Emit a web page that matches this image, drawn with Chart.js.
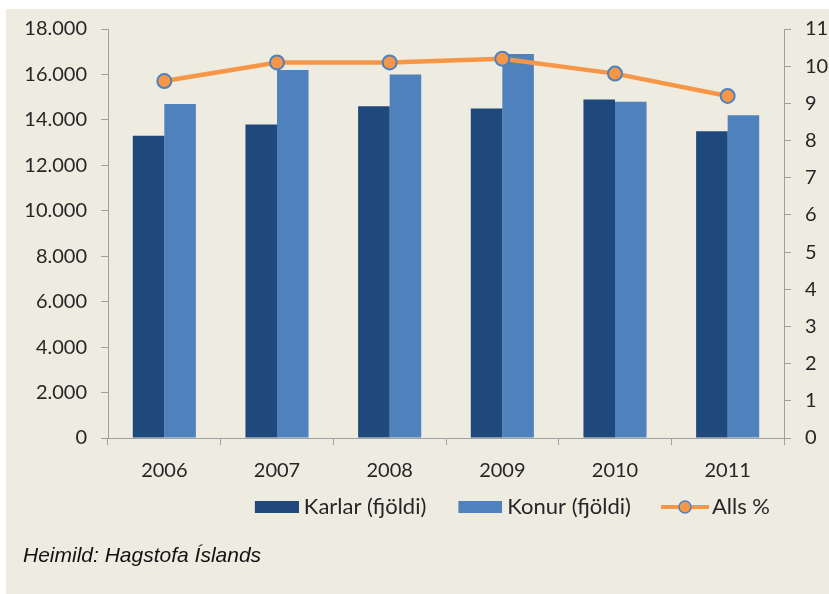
<!DOCTYPE html>
<html>
<head>
<meta charset="utf-8">
<script src="https://cdn.jsdelivr.net/npm/chart.js@4"></script>
<style>
html,body{margin:0;padding:0;background:#fff;width:829px;height:594px;overflow:hidden;}
#bg{position:absolute;left:6px;top:9px;width:823px;height:585px;background:#EEECE1;}
#wrap{position:absolute;left:0;top:0;width:829px;height:594px;}
#src{position:absolute;left:23px;top:544px;font:italic 21px "Liberation Sans",Arial,sans-serif;line-height:21px;color:#111;white-space:nowrap;}
</style>
</head>
<body>
<div id="bg"></div>
<div id="wrap"><canvas id="c" width="829" height="594"></canvas></div>
<div id="src">Heimild: Hagstofa Íslands</div>
<script>
// ---- data ----
const years = ['2006', '2007', '2008', '2009', '2010', '2011'];
const karlar = [13300, 13800, 14600, 14500, 14900, 13500];
const konur = [14700, 16200, 16000, 16900, 14800, 14200];
const allsPct = [9.6, 10.1, 10.1, 10.2, 9.8, 9.2];
const leftTicks = ['0', '2.000', '4.000', '6.000', '8.000', '10.000', '12.000', '14.000', '16.000', '18.000'];
const rightTicks = ['0', '1', '2', '3', '4', '5', '6', '7', '8', '9', '10', '11'];
const seriesNames = ['Karlar (fjöldi)', 'Konur (fjöldi)', 'Alls %'];

const C_KARLAR = '#1F497D';
const C_KONUR = '#4F81BD';
const C_LINE = '#F79646';
const C_AXIS = '#A0A0A0';
const C_TEXT = '#262626';
const FONT = {family: 'Lato', size: 20};
const LEGEND_FONT = {family: 'Lato', size: 22};

// legend swatches: visible part sits at the right of a transparent canvas
function barSwatch(color) {
  const c = document.createElement('canvas');
  c.width = 68; c.height = 12;
  const g = c.getContext('2d');
  g.fillStyle = color; g.fillRect(24, 0, 44, 12);
  return c;
}
function lineSwatch() {
  const c = document.createElement('canvas');
  c.width = 72; c.height = 16;
  const g = c.getContext('2d');
  g.strokeStyle = C_LINE; g.lineWidth = 4;
  g.beginPath(); g.moveTo(24, 8); g.lineTo(72, 8); g.stroke();
  g.beginPath(); g.arc(48, 8, 6, 0, Math.PI * 2);
  g.fillStyle = C_LINE; g.fill();
  g.lineWidth = 1.5; g.strokeStyle = C_KONUR; g.stroke();
  return c;
}
const swatches = [barSwatch(C_KARLAR), barSwatch(C_KONUR), lineSwatch()];

new Chart(document.getElementById('c'), {
  data: {
    labels: years,
    datasets: [
      {type: 'bar', label: seriesNames[0], data: karlar, backgroundColor: C_KARLAR, borderWidth: 0,
       categoryPercentage: 0.56, barPercentage: 1, yAxisID: 'y', order: 1},
      {type: 'bar', label: seriesNames[1], data: konur, backgroundColor: C_KONUR, borderWidth: 0,
       categoryPercentage: 0.56, barPercentage: 1, yAxisID: 'y', order: 1},
      {type: 'line', label: seriesNames[2], data: allsPct, borderColor: C_LINE, borderWidth: 4.5,
       pointRadius: 7, pointHoverRadius: 7, pointBackgroundColor: C_LINE, pointBorderColor: C_KONUR,
       pointBorderWidth: 2, tension: 0, yAxisID: 'y1', order: 0}
    ]
  },
  options: {
    responsive: false,
    animation: false,
    devicePixelRatio: 1,
    layout: {padding: {top: 29, bottom: 66, left: 0, right: 0}},
    plugins: {
      tooltip: {enabled: false},
      legend: {
        position: 'bottom',
        align: 'end',
        fullSize: false,
        labels: {
          usePointStyle: true,
          pointStyleWidth: 56,
          padding: 14,
          font: LEGEND_FONT,
          color: C_TEXT,
          generateLabels: () => seriesNames.map((t, i) => ({
            text: t, pointStyle: swatches[i], fillStyle: 'transparent', strokeStyle: 'transparent',
            lineWidth: 0, hidden: false, datasetIndex: i, fontColor: C_TEXT
          }))
        }
      }
    },
    scales: {
      x: {
        offset: true,
        grid: {display: true, offset: true, drawOnChartArea: false, drawTicks: true, tickLength: 7, color: C_AXIS},
        border: {display: true, color: C_AXIS, width: 1},
        ticks: {font: FONT, color: C_TEXT, padding: 14, maxRotation: 0},
        afterFit(s) { s.height = 44; }
      },
      y: {
        position: 'left', min: 0, max: 18000,
        grid: {display: true, drawOnChartArea: false, drawTicks: true, tickLength: 7, color: C_AXIS},
        border: {display: true, color: C_AXIS, width: 1},
        ticks: {stepSize: 2000, font: FONT, color: C_TEXT, padding: 14,
                callback: (v, i) => leftTicks[i]},
        afterFit(s) { s.width = 108; }
      },
      y1: {
        position: 'right', min: 0, max: 11,
        grid: {display: true, drawOnChartArea: false, drawTicks: true, tickLength: 7, color: C_AXIS},
        border: {display: true, color: C_AXIS, width: 1},
        ticks: {stepSize: 1, font: FONT, color: C_TEXT, padding: 14,
                callback: (v, i) => rightTicks[i]},
        afterFit(s) { s.width = 45; }
      }
    }
  }
});
</script>
</body>
</html>
